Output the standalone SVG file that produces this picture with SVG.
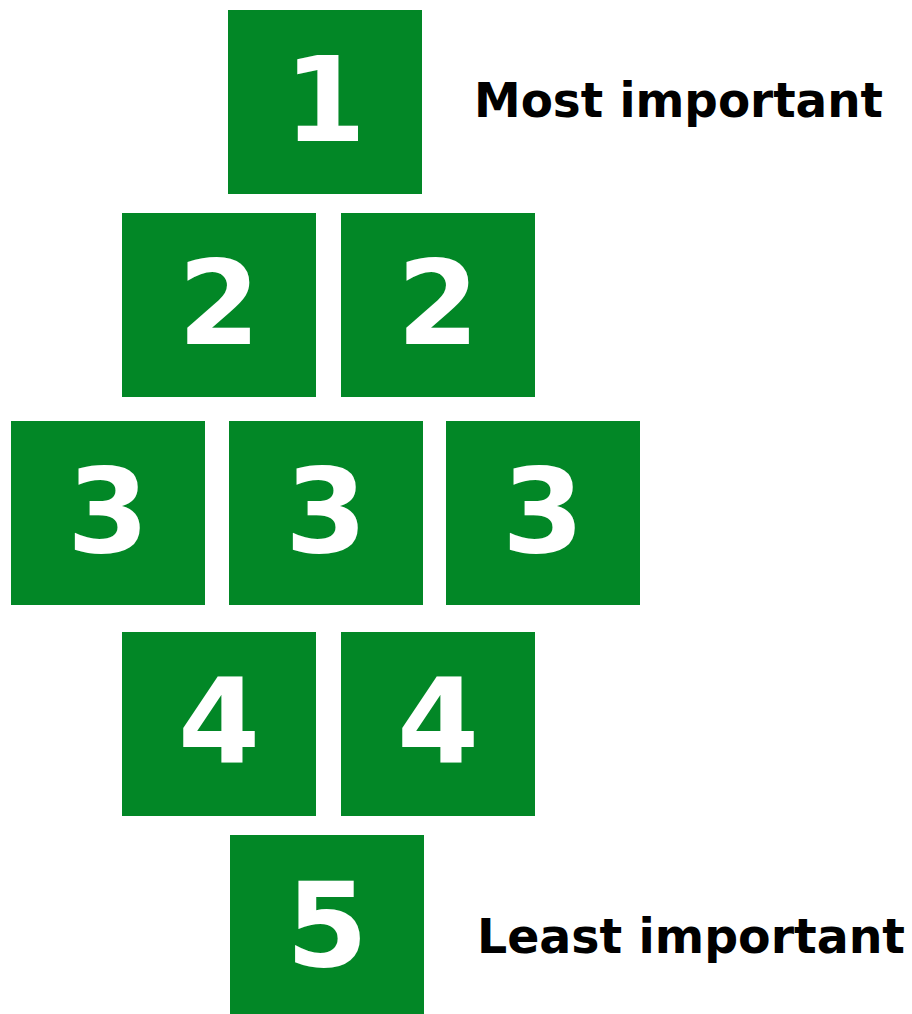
<svg xmlns="http://www.w3.org/2000/svg" width="912" height="1014" viewBox="0 0 912 1014">
<style>
.box{fill:#028726}
.num{fill:#ffffff;font-family:"DejaVu Sans",sans-serif;font-weight:bold;font-size:118px;text-anchor:middle}
.lbl{fill:#000000;font-family:"DejaVu Sans",sans-serif;font-weight:bold;font-size:48px}
</style>
<rect width="912" height="1014" fill="#ffffff"/>
<g id="n1"><rect class="box" x="228" y="10" width="194" height="184"/><text class="num" x="325" y="141">1</text></g>
<g id="n2a"><rect class="box" x="122" y="213" width="194" height="184"/><text class="num" x="219" y="344">2</text></g>
<g id="n2b"><rect class="box" x="341" y="213" width="194" height="184"/><text class="num" x="438" y="344">2</text></g>
<g id="n3a"><rect class="box" x="11" y="421" width="194" height="184"/><text class="num" x="108" y="552">3</text></g>
<g id="n3b"><rect class="box" x="229" y="421" width="194" height="184"/><text class="num" x="326" y="552">3</text></g>
<g id="n3c"><rect class="box" x="446" y="421" width="194" height="184"/><text class="num" x="543" y="552">3</text></g>
<g id="n4a"><rect class="box" x="122" y="632" width="194" height="184"/><text class="num" x="219" y="763">4</text></g>
<g id="n4b"><rect class="box" x="341" y="632" width="194" height="184"/><text class="num" x="438" y="763">4</text></g>
<g id="n5"><rect class="box" x="230" y="835" width="194" height="184"/><text class="num" x="327" y="966">5</text></g>
<g id="labels">
<text class="lbl" x="474" y="117" textLength="409" lengthAdjust="spacingAndGlyphs">Most important</text>
<text class="lbl" x="477" y="953" textLength="428" lengthAdjust="spacingAndGlyphs">Least important</text>
</g>
<g id="connectors"></g>
</svg>
